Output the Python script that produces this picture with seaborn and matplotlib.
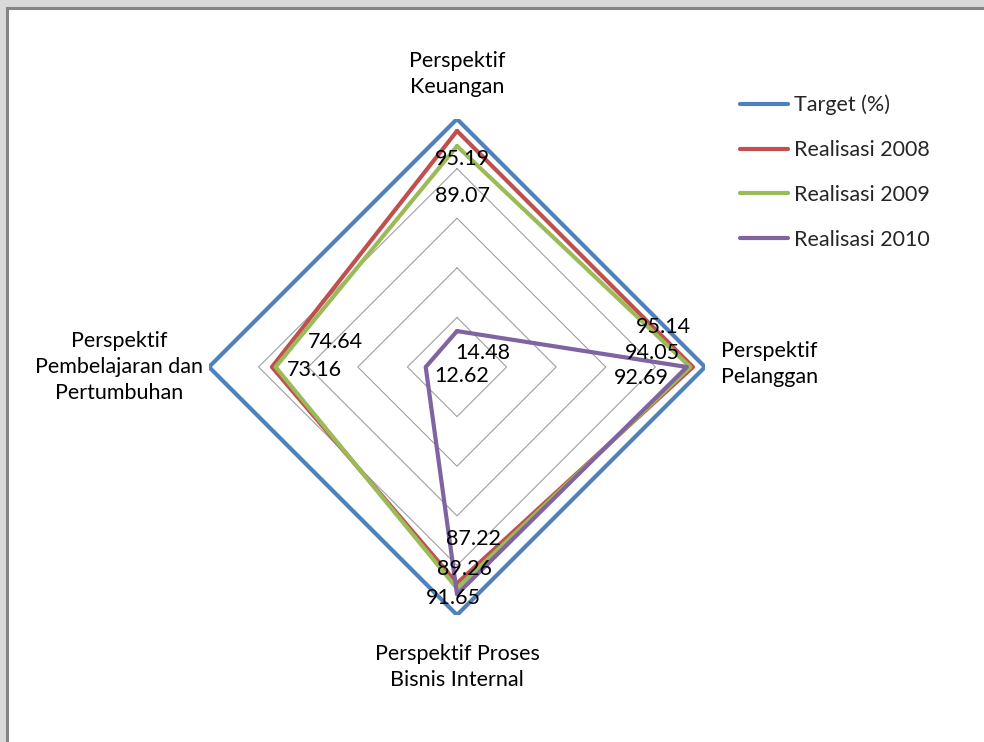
import numpy as np
import pandas as pd
import matplotlib
matplotlib.use("Agg")
import matplotlib.pyplot as plt
from matplotlib.patches import Rectangle
from matplotlib.lines import Line2D
import seaborn as sns

# data
kategori = ["Perspektif\nKeuangan", "Perspektif\nPelanggan",
            "Perspektif Proses\nBisnis Internal",
            "Perspektif\nPembelajaran dan\nPertumbuhan"]
seri = ["Target (%)", "Realisasi 2008", "Realisasi 2009", "Realisasi 2010"]
target = [100, 100, 100, 100]
real_2008 = [95.19, 95.14, 87.22, 74.64]
real_2009 = [89.07, 94.05, 89.26, 73.16]
real_2010 = [14.48, 92.69, 91.65, 12.62]
warna = ["#4F81BD", "#C0504D", "#9BBB59", "#8064A2"]
grid_levels = [20, 40, 60, 80, 100]

sns.set_theme(style="white")
plt.rcParams["font.family"] = ["Lato", "DejaVu Sans"]

W, H = 984, 742
fig = plt.figure(figsize=(W / 100, H / 100), dpi=100, facecolor="#d9d9d9")

# white chart area with grey frame line (top / left)
fig.add_artist(Rectangle((7 / W, -0.1), 1.2, (H - 7.5) / H + 0.1,
                         transform=fig.transFigure, facecolor="white",
                         edgecolor="#858585", linewidth=2.2, zorder=0))

cx, cy, R = 457, 367, 248
ax = fig.add_axes([(cx - R) / W, (H - cy - R) / H, 2 * R / W, 2 * R / H],
                  projection="polar")
ax.set_facecolor("none")
ax.set_theta_zero_location("N")
ax.set_theta_direction(-1)

theta = np.linspace(0, 2 * np.pi, len(kategori) + 1)

# diamond gridlines
for lv in grid_levels:
    ax.plot(theta, [lv] * len(theta), color="#a0a0a0", lw=0.8, zorder=1)

nilai = [target, real_2008, real_2009, real_2010]
rows = []
for s, vals in zip(seri, nilai):
    for t, v in zip(theta, vals + vals[:1]):
        rows.append({"theta": t, "nilai": v, "seri": s})
df = pd.DataFrame(rows)

sns.lineplot(data=df, x="theta", y="nilai", hue="seri", hue_order=seri,
             palette=warna, sort=False, estimator=None, lw=3.0,
             legend=False, ax=ax, zorder=3)

ax.set_ylim(0, 100)
ax.set_xticks([])
ax.set_yticks([])
ax.grid(False)
ax.spines["polar"].set_visible(False)
ax.set_xlabel("")
ax.set_ylabel("")

# data labels (offsets in pixels, per category / series)
label_off = {
    1: [(5, -28), (-30, 40), (16, 44), (64, 25)],
    2: [(5, -50), (-38, 14), (7, 19), (39, -3)],
    3: [(26, -22), (-45, -11), (-4, -4), (36, -9)],
}
fs = 15.5
for si in (1, 2, 3):
    for ci, v in enumerate(nilai[si]):
        ax.annotate(f"{v:.2f}", xy=(theta[ci], v), xytext=label_off[si][ci],
                    textcoords="offset pixels", ha="center", va="center",
                    fontsize=fs, color="black", zorder=5)

# category labels
cat_pos = [((0, 45), "center"), ((16, 3), "left"),
           ((0, -52), "center"), ((-90, 0), "center")]
for ci, txt in enumerate(kategori):
    off, ha = cat_pos[ci]
    ax.annotate(txt, xy=(theta[ci], 100), xytext=off, textcoords="offset pixels",
                ha=ha, va="center", multialignment="center" if ha == "center" else "left",
                fontsize=fs, linespacing=1.35, color="black", annotation_clip=False)

handles = [Line2D([], [], color=c, lw=3.0) for c in warna]
fig.legend(handles, seri, loc="upper left", bbox_to_anchor=(729 / W, 1 - 84 / H),
           frameon=False, fontsize=fs, handlelength=2.25, handletextpad=0.25,
           labelspacing=1.15, borderpad=0)

fig.savefig("out.png", dpi=100, facecolor=fig.get_facecolor())
